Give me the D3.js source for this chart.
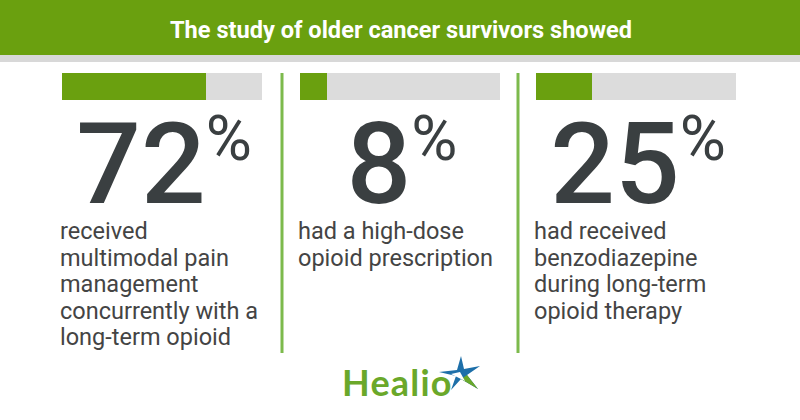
<!DOCTYPE html>
<html><head><meta charset="utf-8">
<script src="https://cdn.jsdelivr.net/npm/d3@7"></script>
<style>body{margin:0;background:#fff}svg{display:block}</style>
</head><body>
<script>
const title = "The study of older cancer survivors showed";
const values = [72, 8, 25];
const barFill = [72, 13.5, 28];
const descriptions = [
  ["received", "multimodal pain", "management", "concurrently with a", "long-term opioid"],
  ["had a high-dose", "opioid prescription"],
  ["had received", "benzodiazepine", "during long-term", "opioid therapy"]
];
const logoText = "Healio";

const W = 800, H = 420;
const green = "#6aa00f", gray = "#dcdcdc", dark = "#3a3f41", divider = "#7dba4c";
const svg = d3.select("body").append("svg").attr("width", W).attr("height", H);

svg.append("rect").attr("x",0).attr("y",0).attr("width",W).attr("height",55).attr("fill",green);
svg.append("rect").attr("x",0).attr("y",55).attr("width",W).attr("height",7).attr("fill","#d8d8d8");
svg.append("text").attr("x",170).attr("y",38).attr("textLength",462).attr("lengthAdjust","spacingAndGlyphs")
  .attr("font-family","Roboto").attr("font-weight",700).attr("font-size",23).attr("fill","#fff").text(title);

const panelX = d3.scaleOrdinal().domain([0,1,2]).range([62, 300, 536]);
const barW = d3.scaleLinear().domain([0,100]).range([0,200]);

values.forEach((v,i)=>{
  const x0 = panelX(i);
  const g = svg.append("g");
  g.append("rect").attr("x",x0).attr("y",73).attr("width",barW(100)).attr("height",27).attr("fill",gray);
  g.append("rect").attr("x",x0).attr("y",73).attr("width",barW(barFill[i])).attr("height",27).attr("fill",green);
  const num = g.append("text").attr("y",203).attr("font-family","Roboto").attr("font-weight",500)
    .attr("font-size",114).attr("fill",dark).text(v);
  const pct = g.append("text").attr("y",160).attr("font-family","Roboto").attr("font-weight",400)
    .attr("font-size",63).attr("fill",dark).text("%");
  const nw = num.node().getComputedTextLength(), pw = pct.node().getComputedTextLength();
  const total = nw + pw;
  const cx = x0 + barW(100)/2 + 2;
  num.attr("x", cx - total/2);
  pct.attr("x", cx - total/2 + nw);
  const t = g.append("text").attr("font-family","Roboto").attr("font-size",23.5).attr("fill","#444");
  descriptions[i].forEach((line,j)=>{
    t.append("tspan").attr("x",x0-2).attr("y",239 + j*26.5).text(line);
  });
});

[282, 518].forEach(x=>{
  svg.append("line").attr("x1",x).attr("x2",x).attr("y1",73).attr("y2",353)
    .attr("stroke",divider).attr("stroke-width",3);
});

// logo
svg.append("text").attr("x",342).attr("y",396).attr("font-family","Lato").attr("font-weight",700)
  .attr("font-size",36).attr("letter-spacing",1.2).attr("fill","#6aa82a").text(logoText);
const star = svg.append("g");
star.append("path").attr("d","M461,356 L464,369 L480,366 L467,375 L478,389 L461,379 L451,390 L456,376 L439,372 L457,370 Z").attr("fill","#1d6fa9");
star.append("path").attr("d","M461,379 L478,389 L467,375 Z").attr("fill","#6aa82a");
star.append("path").attr("d","M451,374 L460,372 L465,381 Z").attr("fill","#fff");
</script>
</body></html>
